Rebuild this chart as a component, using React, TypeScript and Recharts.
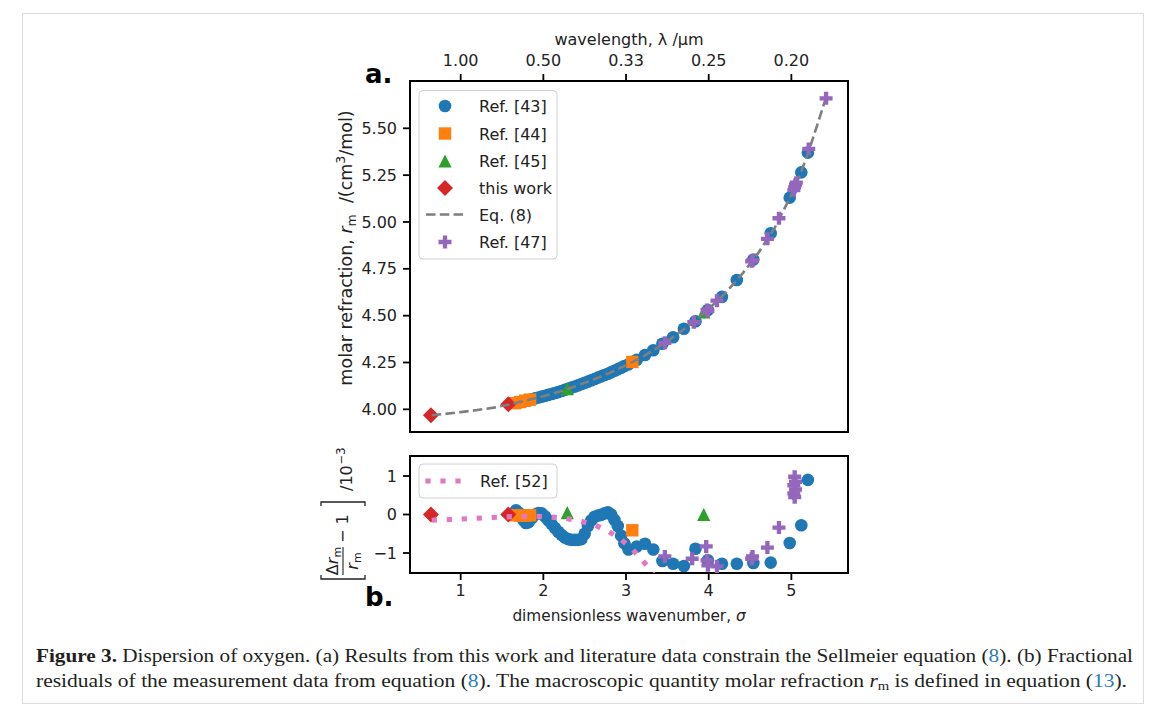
import React from 'react';
import { ComposedChart, Scatter, XAxis, YAxis } from 'recharts';

// ---------- axes ----------
const xTicks = [1, 2, 3, 4, 5];
const wavelengthLabels = ['1.00', '0.50', '0.33', '0.25', '0.20'];
const rTicks = [4.0, 4.25, 4.5, 4.75, 5.0, 5.25, 5.5];
const residTicks = [-1, 0, 1];
const residTickLabels = ['\u22121', '0', '1'];
const X_DOMAIN = [0.387, 5.685];
const R_DOMAIN = [3.879, 5.7525];
const RES_DOMAIN = [-1.52, 1.52];

// ---------- Eq. (8) curve ----------
const eqSigma = [0.65, 0.8, 1.0, 1.2, 1.4, 1.6, 1.8, 2.0, 2.2, 2.4, 2.6, 2.8, 3.0, 3.2, 3.4, 3.6, 3.8, 4.0, 4.2, 4.4, 4.6, 4.8, 5.0, 5.1, 5.2, 5.3, 5.42];
const eqR = [3.968, 3.975, 3.985, 3.996, 4.009, 4.027, 4.048, 4.07, 4.095, 4.125, 4.158, 4.194, 4.235, 4.28, 4.335, 4.395, 4.46, 4.535, 4.62, 4.72, 4.835, 4.97, 5.145, 5.245, 5.365, 5.5, 5.665];

// ---------- Ref. [43] ----------
const ref43Sigma = [1.67, 1.7, 1.73, 1.76, 1.79, 1.82, 1.86, 1.9, 1.94, 1.98, 2.02, 2.06, 2.1, 2.14, 2.18, 2.22, 2.26, 2.3, 2.34, 2.38, 2.42, 2.46, 2.5, 2.54, 2.58, 2.62, 2.66, 2.7, 2.74, 2.78, 2.82, 2.86, 2.9, 2.94, 2.98, 3.03, 3.13, 3.23, 3.33, 3.44, 3.57, 3.7, 3.84, 3.99, 4.16, 4.34, 4.54, 4.75, 4.98, 5.12, 5.2];
const ref43R = [4.034, 4.037, 4.04, 4.044, 4.047, 4.05, 4.054, 4.059, 4.063, 4.068, 4.072, 4.077, 4.082, 4.087, 4.092, 4.098, 4.104, 4.11, 4.116, 4.122, 4.128, 4.135, 4.141, 4.148, 4.155, 4.162, 4.169, 4.176, 4.183, 4.19, 4.198, 4.206, 4.214, 4.222, 4.231, 4.24, 4.265, 4.29, 4.315, 4.35, 4.385, 4.43, 4.47, 4.53, 4.6, 4.69, 4.8, 4.94, 5.13, 5.265, 5.37];
const ref43Resid = [0.11, 0.05, -0.05, -0.15, -0.22, -0.2, -0.1, 0.0, 0.04, 0.03, -0.05, -0.15, -0.25, -0.35, -0.45, -0.53, -0.6, -0.64, -0.66, -0.66, -0.66, -0.64, -0.5, -0.3, -0.15, -0.06, -0.03, -0.01, 0.03, 0.06, 0.0, -0.14, -0.3, -0.55, -0.75, -0.91, -0.83, -0.76, -0.91, -1.21, -1.28, -1.34, -0.89, -1.19, -1.28, -1.28, -1.26, -1.25, -0.74, -0.28, 0.9];

// ---------- Ref. [44] ----------
const ref44Sigma = [1.66, 1.72, 1.78, 1.84, 3.076];
const ref44R = [4.033, 4.039, 4.046, 4.052, 4.253];
const ref44Resid = [-0.02, -0.03, -0.03, -0.02, -0.41];

// ---------- Ref. [45] ----------
const ref45Sigma = [2.29, 3.94];
const ref45R = [4.11, 4.52];
const ref45Resid = [0.05, 0.0];

// ---------- this work ----------
const thisSigma = [0.64, 1.576];
const thisR = [3.968, 4.027];
const thisResid = [0.0, 0.0];

// ---------- Ref. [47] ----------
const ref47Sigma = [3.47, 3.82, 3.98, 3.99, 4.1, 4.52, 4.53, 4.71, 4.85, 5.03, 5.04, 5.05, 5.06, 5.21, 5.42];
const ref47R = [4.355, 4.465, 4.53, 4.525, 4.58, 4.79, 4.795, 4.91, 5.02, 5.17, 5.185, 5.2, 5.21, 5.39, 5.66];
const ref47ResSigma = [3.47, 3.8, 3.97, 3.98, 3.99, 4.1, 4.52, 4.53, 4.71, 4.85, 5.03, 5.03, 5.04, 5.04, 5.05, 5.05];
const ref47Resid = [-1.09, -1.15, -0.83, -1.19, -1.32, -1.35, -1.15, -1.09, -0.86, -0.34, 0.55, 0.76, 0.45, 0.98, 0.65, 0.85];

// ---------- Ref. [52] ----------
const ref52Sigma = [0.65, 0.83, 0.99, 1.17, 1.35, 1.56, 1.72, 1.92, 2.1, 2.26, 2.45, 2.63, 2.79, 2.94, 3.07, 3.19, 3.3, 3.4];
const ref52Resid = [-0.15, -0.13, -0.12, -0.1, -0.08, -0.06, -0.05, -0.05, -0.07, -0.1, -0.17, -0.28, -0.44, -0.65, -0.89, -1.17, -1.46, -1.8];

const zip = (s: number[], v: number[]) => s.map((x, i) => ({ s: x, v: v[i] }));

const C_BLUE = '#1f77b4';
const C_ORANGE = '#ff7f0e';
const C_GREEN = '#2ca02c';
const C_RED = '#d62728';
const C_PURPLE = '#9467bd';
const C_GRAY = '#7f7f7f';
const C_PINK = '#e377c2';
const TXT = '#222';
const FONT = 'DejaVu Sans';

const circleShape = (p: any) => <circle cx={p.cx} cy={p.cy} r={6.3} fill={C_BLUE} />;
const squareShape = (p: any) => <rect x={p.cx - 6.2} y={p.cy - 6.2} width={12.4} height={12.4} fill={C_ORANGE} />;
const triShape = (p: any) => (
  <polygon points={`${p.cx},${p.cy - 6.6} ${p.cx - 6.6},${p.cy + 6.6} ${p.cx + 6.6},${p.cy + 6.6}`} fill={C_GREEN} />
);
const diamondShape = (p: any) => (
  <polygon points={`${p.cx},${p.cy - 8} ${p.cx + 8},${p.cy} ${p.cx},${p.cy + 8} ${p.cx - 8},${p.cy}`} fill={C_RED} />
);
const plusPath = (cx: number, cy: number, s: number) => {
  const a = s / 2;
  const b = s / 6;
  return `M${cx - b},${cy - a}H${cx + b}V${cy - b}H${cx + a}V${cy + b}H${cx + b}V${cy + a}H${cx - b}V${cy + b}H${cx - a}V${cy - b}H${cx - b}Z`;
};
const plusShape = (p: any) => <path d={plusPath(p.cx, p.cy, 13)} fill={C_PURPLE} />;
const noShape = () => <g />;

const axisLine = { stroke: '#000', strokeWidth: 2, strokeLinecap: 'square' as const };
const tickLine = { stroke: '#000', strokeWidth: 1.8 };
const tickText = { fill: TXT, fontSize: 16, fontFamily: FONT };

const PINK_W = 5.2;
const PINK_DASH = '5.2 9.8';

function MainChart() {
  return (
    <ComposedChart width={1165} height={470} margin={{ top: 51, right: 316, bottom: 8, left: 350 }}>
      <XAxis xAxisId="t" orientation="top" type="number" dataKey="s" domain={X_DOMAIN} ticks={xTicks} interval={0}
        tickFormatter={(v: number) => wavelengthLabels[xTicks.indexOf(v)]} height={30} tickSize={7} tickMargin={8}
        allowDataOverflow axisLine={axisLine} tickLine={tickLine} tick={tickText} />
      <XAxis xAxisId="b" orientation="bottom" type="number" dataKey="s" domain={X_DOMAIN} ticks={xTicks} interval={0}
        height={30} tickSize={7} allowDataOverflow axisLine={axisLine} tickLine={tickLine} tick={false} />
      <YAxis yAxisId="l" orientation="left" type="number" dataKey="v" domain={R_DOMAIN} ticks={rTicks} interval={0}
        tickFormatter={(v: number) => v.toFixed(2)} width={60} tickSize={7} tickMargin={6}
        allowDataOverflow axisLine={axisLine} tickLine={tickLine} tick={tickText} />
      <YAxis yAxisId="r" orientation="right" type="number" dataKey="v" domain={R_DOMAIN} width={1}
        allowDataOverflow axisLine={axisLine} tickLine={false} tick={false} />
      <Scatter xAxisId="t" yAxisId="l" data={zip(ref43Sigma, ref43R)} shape={circleShape} isAnimationActive={false} />
      <Scatter xAxisId="t" yAxisId="l" data={zip(ref44Sigma, ref44R)} shape={squareShape} isAnimationActive={false} />
      <Scatter xAxisId="t" yAxisId="l" data={zip(ref45Sigma, ref45R)} shape={triShape} isAnimationActive={false} />
      <Scatter xAxisId="t" yAxisId="l" data={zip(thisSigma, thisR)} shape={diamondShape} isAnimationActive={false} />
      <Scatter xAxisId="t" yAxisId="l" data={zip(eqSigma, eqR)} shape={noShape} fill={C_GRAY} lineType="joint"
        line={{ stroke: C_GRAY, strokeWidth: 2.6, strokeDasharray: '9.5 4.3' }} isAnimationActive={false} />
      <Scatter xAxisId="t" yAxisId="l" data={zip(ref47Sigma, ref47R)} shape={plusShape} isAnimationActive={false} />
    </ComposedChart>
  );
}

function ResidChart() {
  return (
    <ComposedChart width={1165} height={200} margin={{ top: 6, right: 316, bottom: 27, left: 350 }}>
      <XAxis xAxisId="t" orientation="top" type="number" dataKey="s" domain={X_DOMAIN} ticks={xTicks} interval={0}
        height={20} tickSize={7} allowDataOverflow axisLine={axisLine} tickLine={tickLine} tick={false} />
      <XAxis xAxisId="b" orientation="bottom" type="number" dataKey="s" domain={X_DOMAIN} ticks={xTicks} interval={0}
        height={30} tickSize={7} tickMargin={5} allowDataOverflow axisLine={axisLine} tickLine={tickLine} tick={tickText} />
      <YAxis yAxisId="l" orientation="left" type="number" dataKey="v" domain={RES_DOMAIN} ticks={residTicks} interval={0}
        tickFormatter={(v: number) => residTickLabels[residTicks.indexOf(v)]} width={60} tickSize={7} tickMargin={6}
        allowDataOverflow axisLine={axisLine} tickLine={tickLine} tick={tickText} />
      <YAxis yAxisId="r" orientation="right" type="number" dataKey="v" domain={RES_DOMAIN} width={1}
        allowDataOverflow axisLine={axisLine} tickLine={false} tick={false} />
      <Scatter xAxisId="b" yAxisId="l" data={zip(ref43Sigma, ref43Resid)} shape={circleShape} isAnimationActive={false} />
      <Scatter xAxisId="b" yAxisId="l" data={zip(ref44Sigma, ref44Resid)} shape={squareShape} isAnimationActive={false} />
      <Scatter xAxisId="b" yAxisId="l" data={zip(ref45Sigma, ref45Resid)} shape={triShape} isAnimationActive={false} />
      <Scatter xAxisId="b" yAxisId="l" data={zip(thisSigma, thisResid)} shape={diamondShape} isAnimationActive={false} />
      <Scatter xAxisId="b" yAxisId="l" data={zip(ref47ResSigma, ref47Resid)} shape={plusShape} isAnimationActive={false} />
      <Scatter xAxisId="b" yAxisId="l" data={zip(ref52Sigma, ref52Resid)} shape={noShape} fill={C_PINK} lineType="joint"
        stroke={C_PINK} strokeWidth={PINK_W} strokeDasharray={PINK_DASH}
        line={{ stroke: C_PINK, strokeWidth: PINK_W, strokeDasharray: PINK_DASH }} isAnimationActive={false} />
    </ComposedChart>
  );
}

const legendItems = [
  { label: 'Ref. [43]', kind: 'circle' },
  { label: 'Ref. [44]', kind: 'square' },
  { label: 'Ref. [45]', kind: 'tri' },
  { label: 'this work', kind: 'diamond' },
  { label: 'Eq. (8)', kind: 'dash' },
  { label: 'Ref. [47]', kind: 'plus' },
];

function LegendMarker({ kind, cx, cy }: { kind: string; cx: number; cy: number }) {
  if (kind === 'circle') return circleShape({ cx, cy });
  if (kind === 'square') return squareShape({ cx, cy });
  if (kind === 'tri') return triShape({ cx, cy });
  if (kind === 'diamond') return diamondShape({ cx, cy });
  if (kind === 'plus') return plusShape({ cx, cy });
  return <line x1={cx - 19} x2={cx + 19} y1={cy} y2={cy} stroke={C_GRAY} strokeWidth={2.6} strokeDasharray="9.5 4.3" />;
}

function Overlay() {
  const rowY = [106, 133.5, 161, 188, 214.5, 242];
  return (
    <svg width={1165} height={717} style={{ position: 'absolute', left: 0, top: 0, pointerEvents: 'none' }}
      fontFamily={FONT} fill={TXT}>
      <rect x={22.5} y={13.5} width={1121} height={690} fill="none" stroke="#dcdcdc" strokeWidth={1} />
      {/* panel letters */}
      <text x={365} y={83} fontSize={26} fontWeight="bold" fill="#000">a.</text>
      <text x={365} y={606} fontSize={26} fontWeight="bold" fill="#000">b.</text>
      {/* top axis label */}
      <text x={629} y={45} fontSize={16} textAnchor="middle" xmlSpace="preserve">wavelength, λ /μm</text>
      {/* main y label */}
      <text transform="translate(352,248) rotate(-90)" fontSize={17.5} textAnchor="middle" xmlSpace="preserve">
        molar refraction, <tspan fontStyle="italic">r</tspan><tspan fontSize={12.5} dy={3.5}>m</tspan><tspan dy={-3.5}>{'  /(cm'}</tspan><tspan fontSize={12.5} dy={-7}>3</tspan><tspan dy={7}>/mol)</tspan>
      </text>
      {/* x label */}
      <text x={629} y={621} fontSize={15.3} textAnchor="middle">dimensionless wavenumber, <tspan fontStyle="italic">σ</tspan></text>
      {/* residual y label */}
      <g transform="translate(330,514) rotate(-90)" fontSize={16}>
        <path d="M-61,-9 H-65 V35 H-61" fill="none" stroke={TXT} strokeWidth={1.3} />
        <path d="M8,-9 H12 V35 H8" fill="none" stroke={TXT} strokeWidth={1.3} />
        <text x={-47} y={8} textAnchor="middle">Δ<tspan fontStyle="italic">r</tspan><tspan fontSize={11} dy={3}>m</tspan></text>
        <line x1={-61} x2={-33} y1={13} y2={13} stroke={TXT} strokeWidth={1.1} />
        <text x={-47} y={28} textAnchor="middle"><tspan fontStyle="italic">r</tspan><tspan fontSize={11} dy={3}>m</tspan></text>
        <text x={-29} y={18} xmlSpace="preserve">{'\u2212 1'}</text>
        <text x={23} y={22}>/10</text>
        <text x={49.5} y={15} fontSize={11.5}>{'\u22123'}</text>
      </g>
      {/* main legend */}
      <rect x={419} y={90.5} width={138} height={168.5} rx={4} fill="#fff" fillOpacity={0.8} stroke="#d0d0d0" strokeWidth={1} />
      {legendItems.map((it, i) => (
        <g key={it.label}>
          <LegendMarker kind={it.kind} cx={445} cy={rowY[i]} />
          <text x={479} y={rowY[i] + 6} fontSize={16}>{it.label}</text>
        </g>
      ))}
      {/* residual legend */}
      <rect x={419} y={464} width={138} height={34} rx={4} fill="#fff" fillOpacity={0.8} stroke="#d0d0d0" strokeWidth={1} />
      <line x1={425.4} x2={466} y1={481} y2={481} stroke={C_PINK} strokeWidth={PINK_W} strokeDasharray={PINK_DASH} />
      <text x={480} y={487} fontSize={16}>Ref. [52]</text>
      {/* caption */}
      <text x={36} y={662} fontFamily="Liberation Serif" fontSize={19} fill="#231f20" textLength={1097} lengthAdjust="spacingAndGlyphs">
        <tspan fontWeight="bold">Figure 3.</tspan> Dispersion of oxygen. (a) Results from this work and literature data constrain the Sellmeier equation (<tspan fill="#2b7bb9">8</tspan>). (b) Fractional
      </text>
      <text x={36} y={687} fontFamily="Liberation Serif" fontSize={19} fill="#231f20" textLength={1091} lengthAdjust="spacingAndGlyphs">
        residuals of the measurement data from equation (<tspan fill="#2b7bb9">8</tspan>). The macroscopic quantity molar refraction <tspan fontStyle="italic">r</tspan><tspan fontSize={13} dy={3}>m</tspan><tspan dy={-3}> is defined in equation (</tspan><tspan fill="#2b7bb9">13</tspan>).
      </text>
    </svg>
  );
}

export default function App() {
  return (
    <div style={{ position: 'absolute', left: 0, top: 0, width: 1165, height: 717, background: '#fff', overflow: 'hidden' }}>
      <div style={{ position: 'absolute', left: 0, top: 0 }}>
        <MainChart />
      </div>
      <div style={{ position: 'absolute', left: 0, top: 430 }}>
        <ResidChart />
      </div>
      <Overlay />
    </div>
  );
}
